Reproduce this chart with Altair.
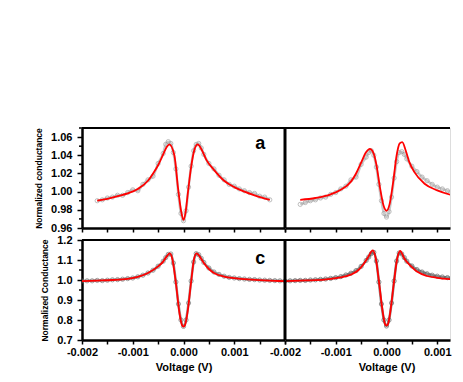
import altair as alt
import pandas as pd

# ---------------- data ----------------
# Panel a (top left): fit (red) and measured (gray)
a_fit_v = [-0.0017, -0.0015, -0.0013, -0.0011, -0.0009, -0.0007, -0.0006, -0.0005, -0.0004,
           -0.00033, -0.00028, -0.00018, -0.00011, -0.000045, 0.0, 0.00004, 0.000085, 0.00015,
           0.00022, 0.00028, 0.00035, 0.00045, 0.0006, 0.0008, 0.001, 0.0012, 0.0014, 0.0017]
a_fit_g = [0.990, 0.992, 0.995, 0.998, 1.003, 1.012, 1.020, 1.029, 1.041,
           1.049, 1.052, 1.040, 1.005, 0.978, 0.969, 0.977, 0.998, 1.027,
           1.047, 1.052, 1.047, 1.035, 1.024, 1.012, 1.005, 1.000, 0.996, 0.991]
a_dat_v = [-0.0017, -0.0016, -0.0015, -0.0014, -0.0013, -0.0012, -0.0011, -0.0010, -0.0009,
           -0.0008, -0.0007, -0.0006, -0.0005, -0.0004, -0.00035, -0.0003, -0.00025, -0.0002,
           -0.00015, -0.0001, -0.00005, 0.0, 0.00005, 0.0001, 0.00015, 0.0002, 0.00025, 0.0003,
           0.00035, 0.0004, 0.0005, 0.0006, 0.0007, 0.0008, 0.0009, 0.0010, 0.0011, 0.0012,
           0.0013, 0.0014, 0.0015, 0.0016, 0.0017]
a_dat_g = [0.990, 0.991, 0.993, 0.994, 0.996, 0.996, 0.999, 1.002, 1.001,
           1.008, 1.013, 1.017, 1.031, 1.042, 1.052, 1.055, 1.053, 1.043,
           1.025, 0.997, 0.976, 0.968, 0.979, 1.005, 1.028, 1.045, 1.052, 1.053,
           1.048, 1.041, 1.031, 1.025, 1.018, 1.013, 1.008, 1.006, 1.003, 1.001,
           0.999, 0.998, 0.995, 0.994, 0.991]

# Panel b (top right)
b_fit_v = [-0.0017, -0.0014, -0.0011, -0.0009, -0.0007, -0.0006, -0.0005, -0.0004, -0.00033,
           -0.00026, -0.0002, -0.00013, -0.00006, 0.0, 0.00006, 0.00013, 0.0002, 0.00026,
           0.00031, 0.00038, 0.00045, 0.00055, 0.00075, 0.001, 0.0013, 0.0017]
b_fit_g = [0.991, 0.993, 0.997, 1.002, 1.011, 1.020, 1.032, 1.0435, 1.047,
           1.043, 1.030, 1.005, 0.985, 0.979, 0.986, 1.010, 1.040, 1.053,
           1.0545, 1.045, 1.0325, 1.0215, 1.0087, 1.0014, 0.996, 0.992]
b_dat_v = a_dat_v
b_dat_g = [0.986, 0.988, 0.990, 0.991, 0.993, 0.994, 0.997, 0.999, 1.003,
           1.006, 1.013, 1.016, 1.030, 1.038, 1.043, 1.045, 1.040, 1.027,
           1.008, 0.990, 0.976, 0.972, 0.978, 0.994, 1.015, 1.033, 1.043, 1.044,
           1.041, 1.036, 1.028, 1.022, 1.016, 1.012, 1.008, 1.005, 1.003, 1.001,
           0.999, 0.997, 0.996, 0.995, 0.994]

# Panel c (bottom left)
c_fit_v = [-0.002, -0.0017, -0.0014, -0.0011, -0.0009, -0.0007, -0.0005, -0.0004, -0.00033,
           -0.00027, -0.00022, -0.00015, -0.00008, -0.00003, 0.0, 0.00003, 0.00008, 0.00015,
           0.00021, 0.00026, 0.00032, 0.0004, 0.0005, 0.0006, 0.0008, 0.001, 0.0012, 0.0015,
           0.0018, 0.002]
c_fit_g = [0.994, 0.997, 1.000, 1.006, 1.016, 1.035, 1.068, 1.092, 1.118,
           1.133, 1.105, 0.985, 0.835, 0.775, 0.767, 0.775, 0.840, 0.990,
           1.108, 1.133, 1.117, 1.085, 1.055, 1.035, 1.017, 1.009, 1.004, 0.999,
           0.996, 0.994]
c_dat_v = [-0.002, -0.0019, -0.0018, -0.0017, -0.0016, -0.0015, -0.0014, -0.0013, -0.0012,
           -0.0011, -0.0010, -0.0009, -0.0008, -0.0007, -0.0006, -0.0005, -0.0004, -0.00035,
           -0.0003, -0.00025, -0.0002, -0.00015, -0.0001, -0.00005, 0.0, 0.00005, 0.0001,
           0.00015, 0.0002, 0.00025, 0.0003, 0.00035, 0.0004, 0.0005, 0.0006, 0.0007, 0.0008,
           0.0009, 0.0010, 0.0011, 0.0012, 0.0013, 0.0014, 0.0015, 0.0016, 0.0017, 0.0018,
           0.0019, 0.0020]
c_dat_g = [0.995, 0.996, 0.996, 0.998, 0.997, 0.999, 1.001, 1.002, 1.004,
           1.007, 1.010, 1.016, 1.024, 1.035, 1.049, 1.069, 1.094, 1.112,
           1.128, 1.130, 1.085, 0.990, 0.880, 0.800, 0.768, 0.800, 0.885,
           0.995, 1.090, 1.132, 1.126, 1.108, 1.088, 1.060, 1.040, 1.028, 1.019,
           1.013, 1.010, 1.007, 1.005, 1.003, 1.002, 1.000, 0.999, 0.998, 0.997,
           0.996, 0.995]

# Panel d (bottom right)
d_fit_v = [-0.002, -0.0017, -0.0014, -0.0011, -0.0009, -0.0007, -0.00055, -0.00045, -0.00037,
           -0.00027, -0.00021, -0.00014, -0.00008, -0.00003, 0.0, 0.00003, 0.00008, 0.00014,
           0.00021, 0.00027, 0.00035, 0.00048, 0.0006, 0.0008, 0.001, 0.0013, 0.0016, 0.002]
d_fit_g = [0.994, 0.997, 0.999, 1.006, 1.013, 1.027, 1.050, 1.080, 1.111,
           1.148, 1.105, 0.975, 0.850, 0.780, 0.772, 0.780, 0.850, 0.975,
           1.105, 1.145, 1.108, 1.069, 1.042, 1.020, 1.011, 1.003, 0.999, 0.995]
d_dat_v = c_dat_v
d_dat_g = [0.995, 0.996, 0.997, 0.998, 0.998, 1.000, 1.001, 1.003, 1.005,
           1.008, 1.012, 1.017, 1.025, 1.034, 1.047, 1.068, 1.098, 1.115,
           1.132, 1.138, 1.095, 0.990, 0.880, 0.800, 0.770, 0.800, 0.885,
           0.995, 1.095, 1.135, 1.130, 1.112, 1.094, 1.070, 1.052, 1.040, 1.031,
           1.024, 1.019, 1.015, 1.012, 1.010, 1.008, 1.006, 1.004, 1.003, 1.001,
           1.000, 0.999]

panel_labels = ["a", "c"]
label_v = [0.00151, 0.00151]
label_g = [1.0465, 1.082]

x_ticks_left = [-0.002, -0.0015, -0.001, -0.0005, 0.0, 0.0005, 0.001, 0.0015, 0.002]
x_ticks_right = [-0.002, -0.0015, -0.001, -0.0005, 0.0, 0.0005, 0.001]
top_y_major = [0.96, 0.98, 1.00, 1.02, 1.04, 1.06]
top_y_minor = [0.97, 0.99, 1.01, 1.03, 1.05, 1.07]
bot_y_major = [0.7, 0.8, 0.9, 1.0, 1.1, 1.2]
bot_y_minor = [0.75, 0.85, 0.95, 1.05, 1.15]

TOP_TITLE = "Normalized conductance"
BOT_TITLE = "Normalized Conductance"

WL, WR, H = 203, 165, 100
FONT = "Liberation Sans"

XDOM_L = [-0.002, 0.002]
XDOM_R = [-0.002, 0.002 * (2 * WR / WL - 1)]
TOPDOM = [0.96, 1.07]
BOTDOM = [0.7, 1.2]


def x_axis(ticks, show_labels, hide_last, title, title_x=None):
    kw = dict(values=ticks, tickCount=50, tickSize=4, tickWidth=1.5, domainWidth=2.5,
              domainColor="black", tickColor="black", grid=False)
    if show_labels:
        hide = "abs(round(datum.value*2000)) % 2 == 1"
        if hide_last:
            hide += " || datum.value > 0.0015"
        kw.update(labelExpr=f"({hide}) ? '' : replace(format(datum.value, '.3f'), '\u2212', '-')",
                  labelFont=FONT, labelFontSize=11, labelFontWeight="bold",
                  labelPadding=2, labelColor="black", labelOverlap=False,
                  labelFlush=False,
                  title=title, titleFont=FONT, titleFontSize=11, titleFontWeight="bold",
                  titlePadding=4, titleColor="black")
        if title_x is not None:
            kw.update(titleX=title_x)
    else:
        kw.update(labels=False, title=None)
    return alt.Axis(**kw)


def y_axis(ticks, fmt, title):
    return alt.Axis(values=ticks, tickCount=50, format=fmt, tickSize=5,
                    tickWidth=1.5, domainWidth=2.5, domainColor="black", tickColor="black",
                    grid=False, labelFont=FONT, labelFontSize=11, labelFontWeight="bold",
                    labelColor="black", labelPadding=5, labelOverlap=False,
                    labelFlush=False, labelBound=False,
                    title=title, titleFont=FONT, titleFontSize=8.5, titleFontWeight="bold",
                    titleColor="black", titlePadding=7)


def panel(dat_v, dat_g, fit_v, fit_g, lab_idx, xdom, ydom, xax, yax, minor, width,
          left_edge, gray_stroke, gray_line):
    ddf = pd.DataFrame({"V": dat_v, "G": dat_g})
    fdf = pd.DataFrame({"V": fit_v, "G": fit_g})
    one = pd.DataFrame({"z": [0]})
    xs = alt.Scale(domain=xdom, nice=False, zero=False)
    ys = alt.Scale(domain=ydom, nice=False, zero=False)
    x_enc = alt.X("V:Q", scale=xs, axis=xax)
    y_enc = alt.Y("G:Q", scale=ys, axis=yax)
    gline = alt.Chart(ddf).mark_line(color=gray_line, strokeWidth=2.5, interpolate="monotone",
                                     clip=True).encode(x=x_enc, y=y_enc)
    gpts = alt.Chart(ddf).mark_point(filled=False, color=gray_stroke, size=18, strokeWidth=0.9,
                                     clip=True).encode(x="V:Q", y="G:Q")
    red = alt.Chart(fdf).mark_line(color="#ff0000", strokeWidth=1.8, interpolate="monotone",
                                   clip=True).encode(x="V:Q", y="G:Q")
    top_rule = alt.Chart(one).mark_rule(color="black", strokeWidth=2).encode(
        x=alt.value(0), x2=alt.value(width), y=alt.value(0))
    layers = [gline, gpts, red, top_rule]
    if minor is not None:
        mdf = pd.DataFrame({"G": minor})
        layers.append(alt.Chart(mdf).mark_rule(color="black", strokeWidth=1.5).encode(
            y="G:Q", x=alt.value(-3), x2=alt.value(0)))
    if left_edge:
        layers.append(alt.Chart(one).mark_rule(color="black", strokeWidth=3).encode(
            x=alt.value(0), y=alt.value(0), y2=alt.value(H)))
    if lab_idx is not None:
        tdf = pd.DataFrame({"V": [label_v[lab_idx]], "G": [label_g[lab_idx]],
                            "t": [panel_labels[lab_idx]]})
        layers.append(alt.Chart(tdf).mark_text(font=FONT, fontSize=18, fontWeight="bold",
                                               color="black", align="center",
                                               baseline="alphabetic").encode(
            x="V:Q", y="G:Q", text="t:N"))
    return alt.layer(*layers).properties(width=width, height=H)


pa = panel(a_dat_v, a_dat_g, a_fit_v, a_fit_g, 0, XDOM_L, TOPDOM,
           x_axis(x_ticks_left, False, True, None),
           y_axis(top_y_major, ".2f", TOP_TITLE), top_y_minor,
           WL, False, "#9a9a9a", "#c8c8c8")
pb = panel(b_dat_v, b_dat_g, b_fit_v, b_fit_g, None, XDOM_R, TOPDOM,
           x_axis(x_ticks_right, False, False, None), None, None,
           WR, True, "#9a9a9a", "#c8c8c8")
pc = panel(c_dat_v, c_dat_g, c_fit_v, c_fit_g, 1, XDOM_L, BOTDOM,
           x_axis(x_ticks_left, True, True, "Voltage (V)"),
           y_axis(bot_y_major, ".1f", BOT_TITLE), bot_y_minor,
           WL, False, "#6a6a6a", "#9a9a9a")
pd_ = panel(d_dat_v, d_dat_g, d_fit_v, d_fit_g, None, XDOM_R, BOTDOM,
            x_axis(x_ticks_right, True, False, "Voltage  (V)", WL / 2), None, None,
            WR, True, "#555555", "#888888")

chart = alt.concat(pa, pb, pc, pd_, columns=2, spacing={"row": 12, "column": 0},
                   bounds="flush", align="each").properties(
    padding={"left": 26, "top": 118, "right": 0, "bottom": 0}
).configure_view(stroke=None).configure(background="white")

chart.save("out.html", embed_options={"renderer": "svg", "actions": False})
